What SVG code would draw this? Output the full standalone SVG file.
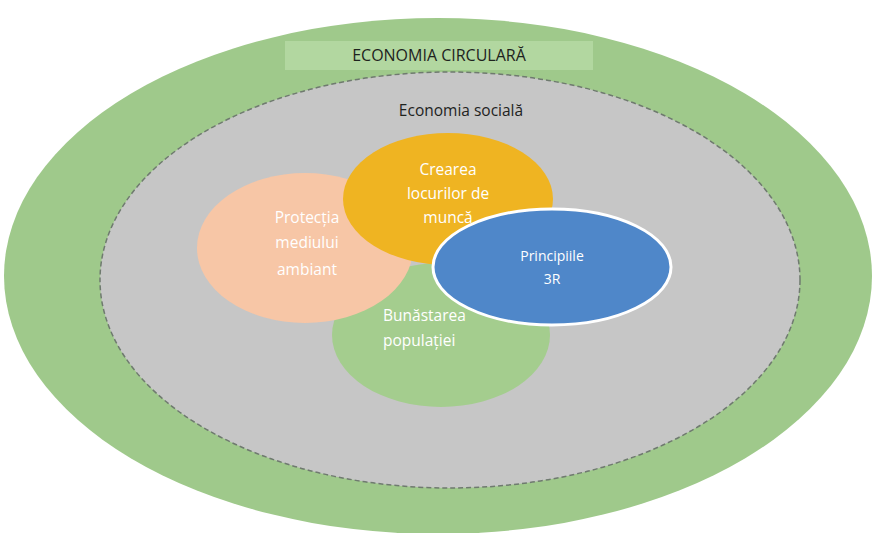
<svg xmlns="http://www.w3.org/2000/svg" width="876" height="533" viewBox="0 0 876 533">
<style>
.w{font-family:"Open Sans","Liberation Sans",sans-serif;font-size:15.5px;fill:#ffffff;text-anchor:middle}
.d{font-family:"Open Sans","Liberation Sans",sans-serif;font-size:15.5px;fill:#1e231e;text-anchor:middle}
</style>
<rect width="876" height="533" fill="#ffffff"/>
<g id="economia-circulara">
<ellipse cx="438" cy="276" rx="434" ry="258" fill="#9fc98b"/>
<rect x="285" y="41" width="308" height="29" fill="#b2d7a0"/>
<text class="d" x="439" y="61" style="font-size:16px">ECONOMIA CIRCULARĂ</text>
</g>
<g id="economia-sociala">
<ellipse cx="450" cy="280" rx="350" ry="208" fill="#c6c6c6" stroke="#6f7a6f" stroke-width="1.5" stroke-dasharray="5,3"/>
<text class="d" x="461" y="116">Economia socială</text>
</g>
<g id="bunastarea">
<ellipse cx="441" cy="335" rx="109" ry="72" fill="#a4cd8e"/>
<text class="w" x="383" y="321" style="text-anchor:start">Bunăstarea</text>
<text class="w" x="383" y="346" style="text-anchor:start">populației</text>
</g>
<g id="protectia">
<ellipse cx="305" cy="248" rx="108" ry="75" fill="#f7c6a6"/>
<text class="w" x="307" y="223">Protecția</text>
<text class="w" x="307" y="248">mediului</text>
<text class="w" x="307" y="275">ambiant</text>
</g>
<g id="crearea">
<ellipse cx="448" cy="199" rx="105" ry="66" fill="#efb422"/>
<text class="w" x="448" y="175">Crearea</text>
<text class="w" x="448" y="199">locurilor de</text>
<text class="w" x="448" y="223">muncă</text>
</g>
<g id="principiile">
<ellipse cx="552" cy="267" rx="119" ry="58" fill="#4f87c9" stroke="#ffffff" stroke-width="3"/>
<text class="w" x="552" y="261" style="font-size:14px">Principiile</text>
<text class="w" x="552" y="284" style="font-size:14px">3R</text>
</g>
<g id="connectors"/>
</svg>
